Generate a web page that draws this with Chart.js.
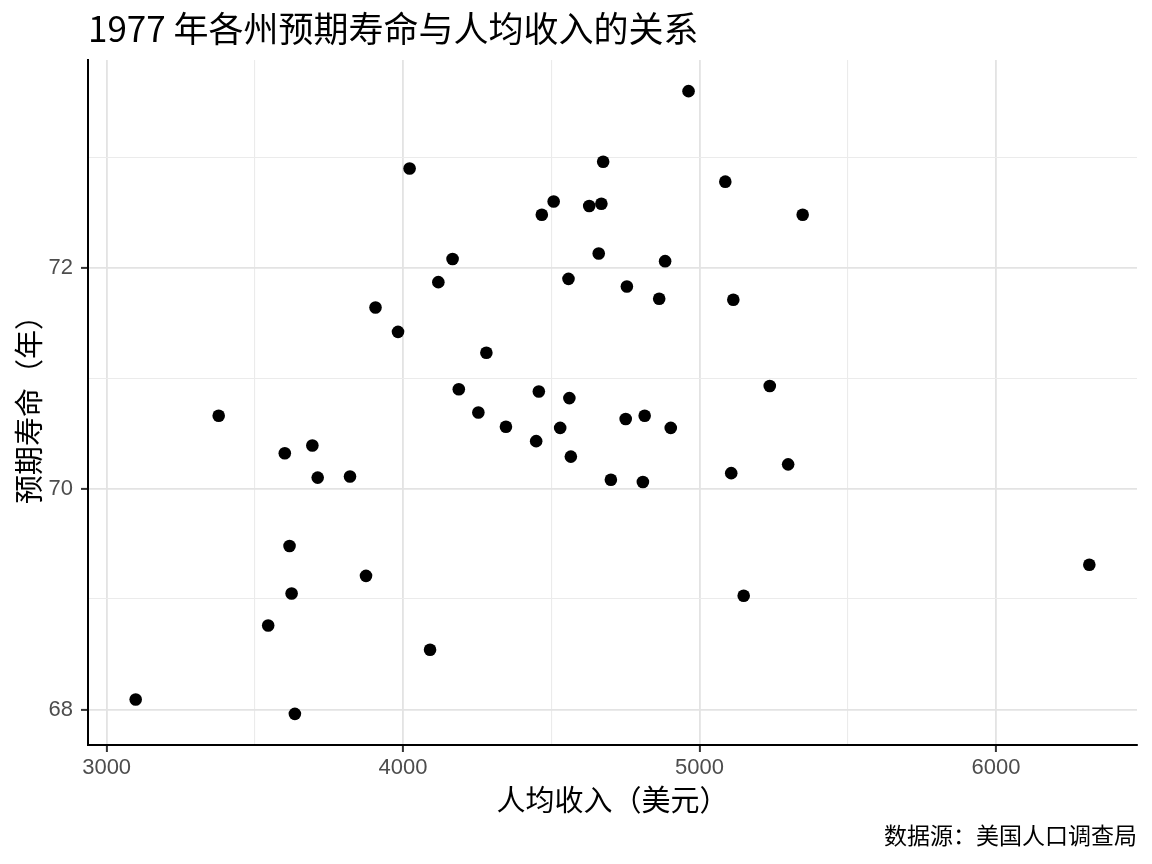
<!DOCTYPE html>
<html>
<head>
<meta charset="utf-8">
<script src="https://cdn.jsdelivr.net/npm/chart.js@4/dist/chart.umd.min.js"></script>
<style>
html,body{margin:0;padding:0;background:#fff;}
#wrap{width:1152px;height:864px;}
</style>
</head>
<body>
<div id="wrap"><canvas id="c" width="1152" height="864"></canvas></div>
<script>
const states = ["Alabama","Alaska","Arizona","Arkansas","California","Colorado","Connecticut","Delaware","Florida","Georgia","Hawaii","Idaho","Illinois","Indiana","Iowa","Kansas","Kentucky","Louisiana","Maine","Maryland","Massachusetts","Michigan","Minnesota","Mississippi","Missouri","Montana","Nebraska","Nevada","New Hampshire","New Jersey","New Mexico","New York","North Carolina","North Dakota","Ohio","Oklahoma","Oregon","Pennsylvania","Rhode Island","South Carolina","South Dakota","Tennessee","Texas","Utah","Vermont","Virginia","Washington","West Virginia","Wisconsin","Wyoming"];
const income = [3624,6315,4530,3378,5114,4884,5348,4809,4815,4091,4963,4119,5107,4458,4628,4669,3712,3545,3694,5299,4755,4751,4675,3098,4254,4347,4508,5149,4281,5237,3601,4903,3875,5087,4561,3983,4660,4449,4558,3635,4167,3821,4188,4022,3907,4701,4864,3617,4468,4566];
const lifeExp = [69.05,69.31,70.55,70.66,71.71,72.06,72.48,70.06,70.66,68.54,73.60,71.87,70.14,70.88,72.56,72.58,70.10,68.76,70.39,70.22,71.83,70.63,72.96,68.09,70.69,70.56,72.60,69.03,71.23,70.93,70.32,70.55,69.21,72.78,70.82,71.42,72.13,70.43,71.90,67.96,72.08,70.11,70.90,72.90,71.64,70.08,71.72,69.48,72.48,70.29];
const xTicks = [3000,3500,4000,4500,5000,5500,6000];
const xLabels = ["3000","","4000","","5000","","6000"];
const yTicks = [68,69,70,71,72,73];
const yLabels = ["68","","70","","72",""];
const titleText = "1977 年各州预期寿命与人均收入的关系";
const xTitle = "人均收入（美元）";
const yTitle = "预期寿命（年）";
const captionText = "数据源：美国人口调查局";

const CJK = "'Noto Sans CJK SC', 'Noto Sans', sans-serif";
const NUM = "'Liberation Sans', Arial, sans-serif";

function expand(arr){const mn=Math.min(...arr),mx=Math.max(...arr),d=(mx-mn)*0.05;return [mn-d,mx+d];}
const [xMin,xMax]=expand(income);
const [yMin,yMax]=expand(lifeExp);

const points = income.map((v,i)=>({x:v,y:lifeExp[i]}));

const textPlugin = {
  id:'texts',
  afterDraw(chart){
    const ctx=chart.ctx;
    ctx.save();
    ctx.fillStyle='#000';
    ctx.font="35px "+CJK;
    ctx.textAlign='left';ctx.textBaseline='middle';
    ctx.fillText(titleText, chart.chartArea.left, 29);
    ctx.font="23px "+CJK;
    ctx.textAlign='right';
    ctx.fillText(captionText, chart.chartArea.right, 835);
    ctx.restore();
  }
};

function isMajor(v,arr,labels){const i=arr.indexOf(v);return i>=0 && labels[i]!=="";}

new Chart(document.getElementById('c'),{
  type:'scatter',
  data:{datasets:[{data:points,backgroundColor:'#000',borderColor:'#000',pointRadius:6.3,pointHoverRadius:6.3,borderWidth:0}]},
  options:{
    responsive:false,animation:false,
    layout:{padding:{top:60,right:15,bottom:47,left:0}},
    plugins:{legend:{display:false},tooltip:{enabled:false},title:{display:false}},
    scales:{
      x:{
        type:'linear',min:xMin,max:xMax,
        afterBuildTicks(s){s.ticks=xTicks.map(v=>({value:v}));},
        afterFit(s){s.height=72;},
        ticks:{callback:(v)=>{const i=xTicks.indexOf(v);return i>=0?xLabels[i]:'';},color:'#4d4d4d',font:{family:NUM,size:22},padding:3,maxRotation:0,autoSkip:false},
        grid:{
          color:(c)=>isMajor(c.tick&&c.tick.value,xTicks,xLabels)?'#e3e3e3':'#ebebeb',
          lineWidth:(c)=>isMajor(c.tick&&c.tick.value,xTicks,xLabels)?1.8:1.1,
          drawTicks:true,tickLength:7,
          tickColor:(c)=>isMajor(c.tick&&c.tick.value,xTicks,xLabels)?'#333':'rgba(0,0,0,0)',
          tickWidth:2
        },
        border:{display:true,color:'#000',width:2},
        title:{display:true,text:xTitle,color:'#000',font:{family:CJK,size:29},padding:{top:0,bottom:0}}
      },
      y:{
        type:'linear',min:yMin,max:yMax,
        afterBuildTicks(s){s.ticks=yTicks.map(v=>({value:v}));},
        afterFit(s){s.width=88;},
        ticks:{callback:(v)=>{const i=yTicks.indexOf(v);return i>=0?yLabels[i]:'';},color:'#4d4d4d',font:{family:NUM,size:22},padding:8,autoSkip:false},
        grid:{
          color:(c)=>isMajor(c.tick&&c.tick.value,yTicks,yLabels)?'#e3e3e3':'#ebebeb',
          lineWidth:(c)=>isMajor(c.tick&&c.tick.value,yTicks,yLabels)?1.8:1.1,
          drawTicks:true,tickLength:7,
          tickColor:(c)=>isMajor(c.tick&&c.tick.value,yTicks,yLabels)?'#333':'rgba(0,0,0,0)',
          tickWidth:2
        },
        border:{display:true,color:'#000',width:2},
        title:{display:true,text:yTitle,color:'#000',font:{family:CJK,size:29},padding:{top:12,bottom:0}}
      }
    }
  },
  plugins:[textPlugin]
});
</script>
</body>
</html>
